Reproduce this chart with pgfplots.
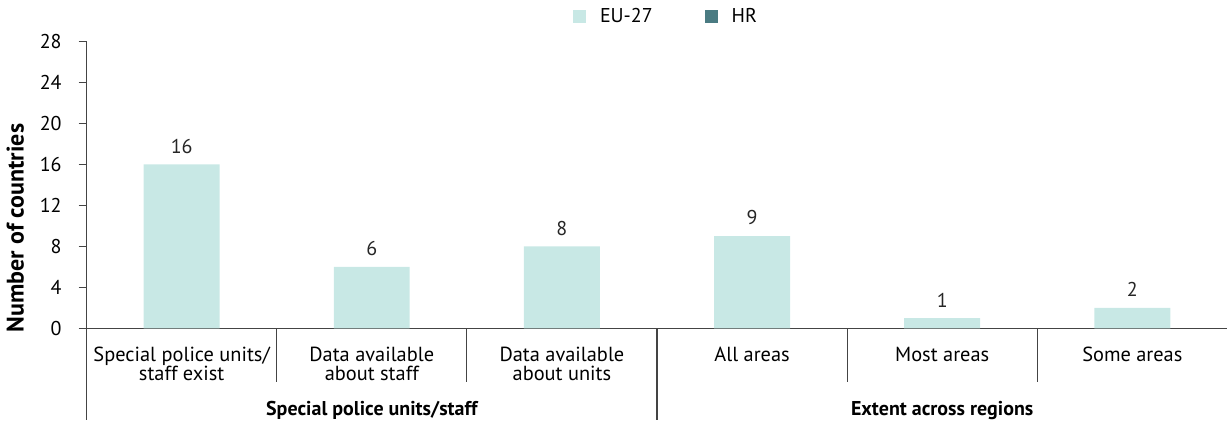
\documentclass[border=0pt]{standalone}
\usepackage{pgfplots}
\pgfplotsset{compat=1.18}
\usepackage{fontspec}
\setmainfont{PT Sans}
\definecolor{eu}{HTML}{C8E8E5}
\definecolor{hr}{HTML}{4A7B82}
\definecolor{axisgray}{HTML}{444444}

\begin{document}
\begin{tikzpicture}
\begin{axis}[
  scale only axis,
  width=571pt, height=143.5pt,
  xmin=-0.5, xmax=5.5,
  ymin=0, ymax=28,
  ytick={0,4,...,28},
  axis x line=bottom, axis y line=left,
  axis line style={-, draw=axisgray, line width=0.6pt},
  tick align=outside,
  major y tick style={draw=axisgray, line width=0.6pt},
  major tick length=4pt,
  xtick={0,...,5},
  major x tick style={draw=none},
  xticklabels={{Special police units/\\staff exist},{Data available\\about staff},{Data available\\about units},{All areas},{Most areas},{Some areas}},
  xticklabel style={align=center, font=\fontsize{10.2}{9.5}\selectfont, yshift=-2pt},
  yticklabel style={font=\fontsize{10}{10}\selectfont, xshift=-5pt},
  /pgf/number format/assume math mode=true,
  ylabel={\bfseries Number of countries},
  ylabel style={font=\fontsize{12}{13}\selectfont, at={(ticklabel cs:0.35)}},
  ylabel shift=1pt,
  ybar, bar width=38pt,
  nodes near coords,
  nodes near coords style={font=\fontsize{10}{10}\selectfont, text=black!85, yshift=2pt},
  legend style={at={(0.5,1)}, anchor=south, yshift=4pt, xshift=5pt, draw=none,
    legend columns=2, font=\fontsize{10}{10}\selectfont,
    /tikz/every odd column/.append style={column sep=5pt},
    /tikz/every even column/.append style={column sep=24pt}},
  legend image code/.code={\fill[#1] (0pt,-3.25pt) rectangle (6.5pt,3.25pt);},
  clip=false,
]
\addplot[fill=eu, draw=none] coordinates {(0,16) (1,6) (2,8) (3,9) (4,1) (5,2)};
\addlegendentry{EU-27}
\addlegendimage{fill=hr, draw=none}
\addlegendentry{HR}

\draw[axisgray, line width=0.6pt] (axis cs:0.5,0) -- ++(0pt,-27pt);
\draw[axisgray, line width=0.6pt] (axis cs:1.5,0) -- ++(0pt,-27pt);
\draw[axisgray, line width=0.6pt] (axis cs:3.5,0) -- ++(0pt,-27pt);
\draw[axisgray, line width=0.6pt] (axis cs:4.5,0) -- ++(0pt,-27pt);
\draw[axisgray, line width=0.6pt] (axis cs:-0.5,0) -- ++(0pt,-46pt);
\draw[axisgray, line width=0.6pt] (axis cs:2.5,0) -- ++(0pt,-46pt);
\node[font=\fontsize{10}{10}\selectfont\bfseries, anchor=base] at ([yshift=-43.5pt]axis cs:1,0) {Special police units/staff};
\node[font=\fontsize{10}{10}\selectfont\bfseries, anchor=base] at ([yshift=-43.5pt]axis cs:4,0) {Extent across regions};
\end{axis}
\end{tikzpicture}
\end{document}
